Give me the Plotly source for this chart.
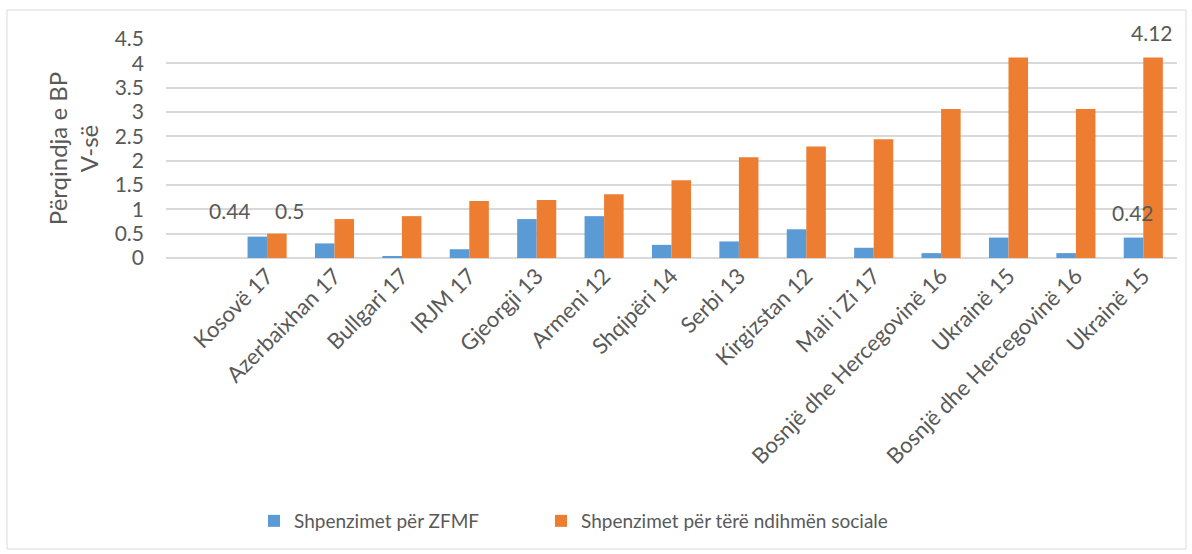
import plotly.graph_objects as go

categories = ["Kosovë 17", "Azerbaixhan 17", "Bullgari 17", "IRJM 17", "Gjeorgji 13",
              "Armeni 12", "Shqipëri 14", "Serbi 13", "Kirgizstan 12", "Mali i Zi 17",
              "Bosnjë dhe Hercegovinë 16", "Ukrainë 15", "Bosnjë dhe Hercegovinë 16", "Ukrainë 15"]
zfmf = [0.44, 0.30, 0.03, 0.18, 0.80, 0.86, 0.27, 0.34, 0.59, 0.21, 0.10, 0.42, 0.10, 0.42]
social = [0.50, 0.80, 0.86, 1.17, 1.19, 1.31, 1.60, 2.07, 2.29, 2.44, 3.06, 4.12, 3.06, 4.12]
series_names = ["Shpenzimet për ZFMF", "Shpenzimet për tërë ndihmën sociale"]
y_ticks = [0, 0.5, 1, 1.5, 2, 2.5, 3, 3.5, 4, 4.5]

xpos = list(range(1, len(categories) + 1))  # position 0 is an empty leading category

FONT = "Lato, 'Open Sans', sans-serif"
GRAY = "#595959"

# plot area in pixels
L, R, T, B = 166, 15, 39, 296
W, H = 1192, 554
PW, PH = W - L - R, H - T - B


def px_x(px):
    return (px - L) / PW


def px_y(py):
    return (H - B - py) / PH


fig = go.Figure()
fig.add_trace(go.Bar(x=xpos, y=zfmf, name=series_names[0], marker_color="#5B9BD5",
                     marker_line_width=0, legend="legend"))
fig.add_trace(go.Bar(x=xpos, y=social, name=series_names[1], marker_color="#ED7D31",
                     marker_line_width=0, legend="legend2"))

# manually placed data labels (as in the original)
labels = [
    (1, zfmf[0], 0.98, -37, 0),
    (1, social[0], 0.98, 22, 0),
    (14, social[13], 4.5, 9, 7),
    (14, zfmf[13], 0.94, -10, 0),
]
for xi, val, ypos, xs, ys in labels:
    fig.add_annotation(x=xi, y=ypos, text=f"{val:g}", showarrow=False, xshift=xs, yshift=ys,
                       font=dict(family=FONT, size=21, color=GRAY), yanchor="middle")

leg_common = dict(orientation="h", yanchor="middle", xanchor="left", itemwidth=30,
                  font=dict(family=FONT, size=19, color=GRAY), bgcolor="rgba(0,0,0,0)")

fig.update_layout(
    width=W, height=H,
    margin=dict(l=L, r=R, t=T, b=B),
    paper_bgcolor="white", plot_bgcolor="white",
    barmode="group", bargap=0.42, bargroupgap=0,
    font=dict(family=FONT, color=GRAY),
    showlegend=True,
    legend=dict(x=px_x(254), y=px_y(521), **leg_common),
    legend2=dict(x=px_x(541), y=px_y(521), **leg_common),
    xaxis=dict(range=[-0.5, len(categories) + 0.5], tickmode="array", tickvals=xpos,
               ticktext=categories, tickangle=-45, automargin=False,
               tickfont=dict(family=FONT, size=22, color=GRAY),
               showgrid=False, showline=False, zeroline=False, ticks=""),
    yaxis=dict(range=[0, 4.5], tickmode="array", tickvals=y_ticks,
               ticktext=[f"{v:g}" for v in y_ticks], automargin=False,
               tickfont=dict(family=FONT, size=21, color=GRAY), ticklabelstandoff=21,
               gridcolor="#D9D9D9", gridwidth=1.5, zeroline=True, zerolinecolor="#D9D9D9",
               zerolinewidth=1.5, showline=False, ticks="",
               title=dict(text="Përqindja e BP<br>V-së", standoff=9,
                          font=dict(family=FONT, size=24, color=GRAY))),
)

fig.add_shape(type="rect", xref="paper", yref="paper",
              x0=px_x(7), x1=px_x(1186), y0=px_y(549), y1=px_y(10),
              line=dict(color="#D9D9D9", width=1), fillcolor="rgba(0,0,0,0)", layer="below")

fig.write_html("out.html", config={"displayModeBar": False},
               post_script="document.body.style.margin='0';")
